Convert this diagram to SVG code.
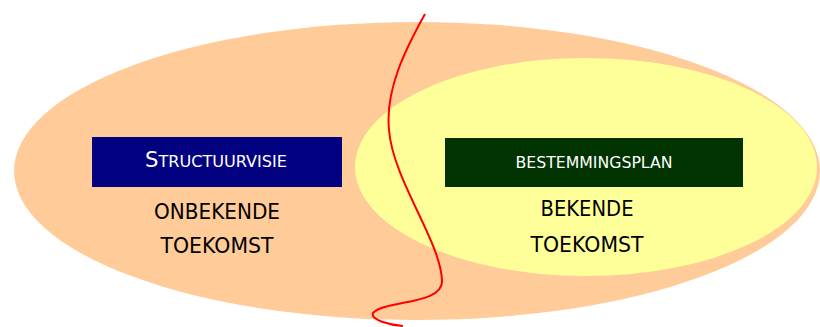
<svg xmlns="http://www.w3.org/2000/svg" width="820" height="327" viewBox="0 0 820 327">
<style>
text{font-family:"DejaVu Sans","Liberation Sans",sans-serif;text-anchor:middle}
.lbl{fill:#ffffff}
.big{fill:#000000;font-size:21px}
</style>
<rect width="820" height="327" fill="#ffffff"/>
<g id="outer"><ellipse cx="417" cy="171" rx="403" ry="149" fill="#ffcc99"/></g>
<g id="inner"><ellipse cx="586" cy="167" rx="231" ry="109" fill="#ffff99"/></g>
<g id="structuurvisie">
<rect x="92" y="137" width="250" height="50" fill="#000080"/>
<text class="lbl" x="216" y="167" textLength="142" lengthAdjust="spacingAndGlyphs"><tspan font-size="21">S</tspan><tspan font-size="16">TRUCTUURVISIE</tspan></text>
</g>
<g id="bestemmingsplan">
<rect x="445" y="138" width="298" height="49" fill="#003300"/>
<text class="lbl" x="594" y="168" font-size="16" textLength="157" lengthAdjust="spacingAndGlyphs">BESTEMMINGSPLAN</text>
</g>
<g id="onbekende">
<text class="big" x="217" y="219" textLength="126" lengthAdjust="spacingAndGlyphs">ONBEKENDE</text>
<text class="big" x="217" y="253" textLength="113" lengthAdjust="spacingAndGlyphs">TOEKOMST</text>
</g>
<g id="bekende">
<text class="big" x="587" y="216" textLength="93" lengthAdjust="spacingAndGlyphs">BEKENDE</text>
<text class="big" x="587" y="252" textLength="113" lengthAdjust="spacingAndGlyphs">TOEKOMST</text>
</g>
<g id="connectors">
<path d="M425,14 C405,50 385,90 389,130 C393,180 440,240 442,280 C444,305 385,300 373,313 C370,320 390,325 403,326" fill="none" stroke="#ff0000" stroke-width="2"/>
</g>
</svg>
